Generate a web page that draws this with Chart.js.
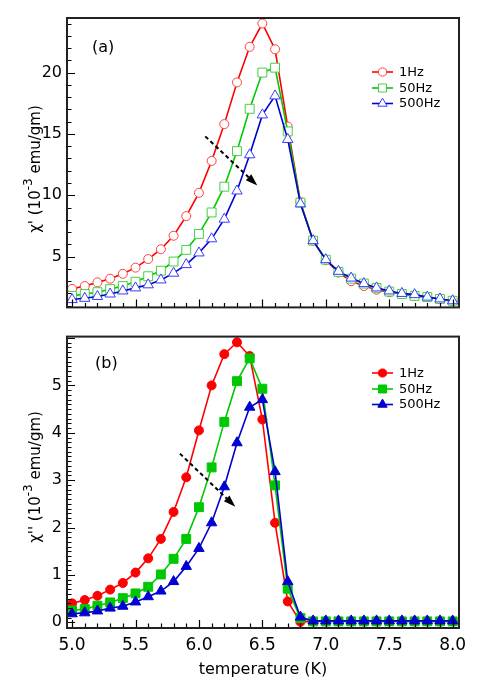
<!DOCTYPE html>
<html>
<head>
<meta charset="utf-8">
<script src="https://cdn.jsdelivr.net/npm/chart.js@4.4.0/dist/chart.umd.min.js"></script>
<style>
html,body{margin:0;padding:0;background:#fff;}
#wrap{position:relative;width:501px;height:690px;}
#boxA{position:absolute;left:0;top:0;width:501px;height:322px;}
#boxB{position:absolute;left:0;top:322px;width:501px;height:368px;}
</style>
</head>
<body>
<div id="wrap">
<div id="boxA"><canvas id="chartA"></canvas></div>
<div id="boxB"><canvas id="chartB"></canvas></div>
</div>
<script>
// ================= DATA =================
const temps = [5.0,5.1,5.2,5.3,5.4,5.5,5.6,5.7,5.8,5.9,6.0,6.1,6.2,6.3,6.4,6.5,6.6,6.7,6.8,6.9,7.0,7.1,7.2,7.3,7.4,7.5,7.6,7.7,7.8,7.9,8.0];
const freqLabels = ["1Hz","50Hz","500Hz"];

// chi' (panel a)
const chiReal1 =   [2.37,2.6,2.9,3.2,3.6,4.1,4.8,5.6,6.7,8.3,10.2,12.8,15.8,19.2,22.1,24.0,21.9,15.6,9.45,6.3,4.7,3.7,3.0,2.6,2.3,2.1,1.95,1.8,1.7,1.55,1.4];
const chiReal50 =  [1.8,1.95,2.1,2.35,2.6,2.95,3.4,3.85,4.6,5.55,6.85,8.6,10.7,13.6,17.05,20.0,20.4,15.2,9.4,6.3,4.75,3.75,3.2,2.8,2.45,2.15,1.95,1.8,1.7,1.55,1.4];
const chiReal500 = [1.5,1.6,1.75,1.95,2.2,2.45,2.7,3.1,3.65,4.35,5.3,6.45,8.05,10.35,13.3,16.55,18.1,14.55,9.3,6.3,4.75,3.8,3.25,2.8,2.45,2.2,2.0,1.9,1.7,1.55,1.4];

// chi'' (panel b)
const chiImag1 =   [0.4,0.47,0.56,0.69,0.83,1.05,1.35,1.76,2.33,3.06,4.05,5.0,5.66,5.91,5.62,4.28,2.1,0.44,0.01,0.02,0.02,0.02,0.02,0.02,0.02,0.02,0.02,0.02,0.02,0.02,0.02];
const chiImag50 =  [0.25,0.28,0.35,0.42,0.51,0.61,0.75,1.01,1.34,1.76,2.43,3.27,4.23,5.09,5.57,4.93,2.89,0.71,0.09,0.02,0.02,0.02,0.02,0.02,0.02,0.02,0.02,0.02,0.02,0.02,0.02];
const chiImag500 = [0.18,0.2,0.24,0.3,0.34,0.43,0.54,0.66,0.86,1.18,1.56,2.1,2.86,3.79,4.54,4.7,3.18,0.86,0.11,0.03,0.03,0.03,0.03,0.03,0.03,0.03,0.03,0.03,0.03,0.03,0.03];

// ticks
const xTicks = [5.0,5.5,6.0,6.5,7.0,7.5,8.0];
const yTicksA = [5,10,15,20];
const yTicksB = [0,1,2,3,4,5];

// arrows (data coords: start -> tip)
const arrowA = [[6.05,14.8],[6.46,10.8]];
const arrowB = [[5.85,3.56],[6.287,2.44]];

Chart.defaults.font.family = "'DejaVu Sans'";
Chart.defaults.color = "#000";

const FONT = "'DejaVu Sans'";
const colors = ["#ff0000","#00c800","#0000d0"];
const markA = ["#ff4040","#44d044","#3a3aff"];
const styles = ["circle","rect","triangle"];
const radii = [4.5,6.3,6];

function pts(arr){ return temps.map((t,i)=>({x:t,y:arr[i]})); }

function makeSets(series, hollow){
return series.map((s,i)=>({
label:freqLabels[i],
data:pts(s),
borderColor:colors[i],
borderWidth:1.6,
pointStyle:styles[i],
pointRadius:radii[i],
pointHoverRadius:radii[i],
pointBorderWidth:1,
pointBorderColor:hollow ? markA[i] : colors[i],
pointBackgroundColor:hollow ? "#ffffff" : colors[i],
tension:0,
order:3-i
}));
}

// ================= PANEL PLUGIN =================
function drawYTitle(ctx, cx, cy, primes){
ctx.save();
ctx.translate(cx, cy);
ctx.rotate(-Math.PI/2);
let parts = [
{t:"\u03C7"+primes+" (10", f:"15px "+FONT, dy:0},
{t:"-3", f:"12px "+FONT, dy:-8},
{t:" emu/gm)", f:"15px "+FONT, dy:0}
];
let w = 0;
parts.forEach(p=>{ ctx.font=p.f; p.w=ctx.measureText(p.t).width; w+=p.w; });
let x = -w/2;
ctx.fillStyle="#000";
ctx.textBaseline="alphabetic";
parts.forEach(p=>{ ctx.font=p.f; ctx.fillText(p.t, x, 5+p.dy); x+=p.w; });
ctx.restore();
}

const panelPlugin = {
id:"panel",
afterDraw(chart, args, o){
const {ctx, chartArea:a, scales:{x,y}} = chart;
ctx.save();

// inward ticks
ctx.strokeStyle="#000";
ctx.lineWidth=1.2;
ctx.beginPath();
for(let i=0;i<=30;i++){
let px = Math.round(x.getPixelForValue(5+i*0.1))+0.5;
let len = i%5===0 ? 8 : 4.5;
ctx.moveTo(px,a.bottom); ctx.lineTo(px,a.bottom-len);
}
for(let i=o.yMinorFrom;i<=o.yMinorTo;i++){
let v = i*o.yMinorStep;
let py = Math.round(y.getPixelForValue(v))+0.5;
let len = (i%o.majorEvery===0) ? 8 : 4.5;
ctx.moveTo(a.left,py); ctx.lineTo(a.left+len,py);
}
ctx.stroke();

// frame
ctx.strokeStyle="#222";
ctx.lineWidth=2;
ctx.strokeRect(a.left,a.top,a.right-a.left,a.bottom-a.top);

// arrow
let [s,e] = o.arrow;
let x1=x.getPixelForValue(s[0]), y1=y.getPixelForValue(s[1]);
let x2=x.getPixelForValue(e[0]), y2=y.getPixelForValue(e[1]);
let ang=Math.atan2(y2-y1,x2-x1);
let hl=12, hw=4;
let bx=x2-hl*Math.cos(ang), by=y2-hl*Math.sin(ang);
ctx.strokeStyle="#000";
ctx.lineWidth=2;
ctx.setLineDash([4,3]);
ctx.beginPath(); ctx.moveTo(x1,y1); ctx.lineTo(bx,by); ctx.stroke();
ctx.setLineDash([]);
ctx.fillStyle="#000";
ctx.beginPath();
ctx.moveTo(x2,y2);
ctx.lineTo(bx+hw*Math.sin(ang), by-hw*Math.cos(ang));
ctx.lineTo(bx-hw*Math.sin(ang), by+hw*Math.cos(ang));
ctx.closePath(); ctx.fill();

// panel tag
ctx.font="16px "+FONT;
ctx.textBaseline="alphabetic";
ctx.textAlign="left";
ctx.fillText(o.tag, o.tagX, o.tagY);

// legend
chart.data.datasets.forEach((d,i)=>{
let ly=o.legendY[i];
ctx.strokeStyle=d.borderColor;
ctx.lineWidth=1.6;
ctx.beginPath(); ctx.moveTo(372,ly); ctx.lineTo(393,ly); ctx.stroke();
ctx.fillStyle=d.pointBackgroundColor;
ctx.strokeStyle=d.pointBorderColor;
ctx.lineWidth=1;
Chart.helpers.drawPoint(ctx,{pointStyle:d.pointStyle,radius:d.pointRadius*0.9,rotation:0,borderWidth:1},382.5,ly);
ctx.fillStyle="#000";
ctx.font="13px "+FONT;
ctx.textBaseline="middle";
ctx.fillText(d.label,399,ly+0.5);
});

// y title
drawYTitle(ctx, 35, o.titleY, o.primes);

// x title
if(o.xTitle){
ctx.fillStyle="#000";
ctx.font="16px "+FONT;
ctx.textAlign="center";
ctx.textBaseline="alphabetic";
ctx.fillText(o.xTitle,(a.left+a.right)/2,674-322);
}
ctx.restore();
}
};

function baseOptions(){
return {
responsive:true,
maintainAspectRatio:false,
animation:false,
devicePixelRatio:1,
plugins:{legend:{display:false},tooltip:{enabled:false}},
};
}

// ================= CHART A =================
let optA = baseOptions();
optA.layout = {padding:{top:18,right:42,bottom:2,left:0}};
optA.scales = {
x:{type:"linear",display:false,min:4.96,max:8.05},
y:{
type:"linear",min:0.86,max:24.45,
afterBuildTicks:s=>{ s.ticks = yTicksA.map(v=>({value:v})); },
afterFit:s=>{ s.width=67; },
ticks:{padding:5,font:{size:16},color:"#000"},
grid:{display:false,drawTicks:false},
border:{display:false}
}
};
optA.plugins.panel = {
yMinorFrom:1,yMinorTo:24,yMinorStep:1,majorEvery:5,
arrow:arrowA,tag:"(a)",tagX:92,tagY:52,
legendY:[72,88,103.5],titleY:169,primes:"'"
};

new Chart(document.getElementById("chartA"),{
type:"line",
data:{datasets:makeSets([chiReal1,chiReal50,chiReal500],true)},
options:optA,
plugins:[panelPlugin]
});

// ================= CHART B =================
let optB = baseOptions();
optB.layout = {padding:{top:4,right:42,bottom:0,left:0}};
optB.scales = {
x:{
type:"linear",min:4.96,max:8.05,
afterBuildTicks:s=>{ s.ticks = xTicks.map(v=>({value:v})); },
afterFit:s=>{ s.height=62; },
ticks:{padding:7,font:{size:17},color:"#000",autoSkip:false,maxRotation:0,callback:v=>v.toFixed(1)},
grid:{display:false,drawTicks:false},
border:{display:false}
},
y:{
type:"linear",min:-0.12,max:6.03,
afterBuildTicks:s=>{ s.ticks = yTicksB.map(v=>({value:v})); },
afterFit:s=>{ s.width=67; },
ticks:{padding:5,font:{size:16},color:"#000"},
grid:{display:false,drawTicks:false},
border:{display:false}
}
};
optB.plugins.panel = {
yMinorFrom:0,yMinorTo:60,yMinorStep:0.1,majorEvery:10,
arrow:arrowB,tag:"(b)",tagX:95,tagY:368-322,
legendY:[373-322,389-322,404.5-322],titleY:477-322,primes:"''",
xTitle:"temperature (K)"
};

new Chart(document.getElementById("chartB"),{
type:"line",
data:{datasets:makeSets([chiImag1,chiImag50,chiImag500],false)},
options:optB,
plugins:[panelPlugin]
});
</script>
</body>
</html>
